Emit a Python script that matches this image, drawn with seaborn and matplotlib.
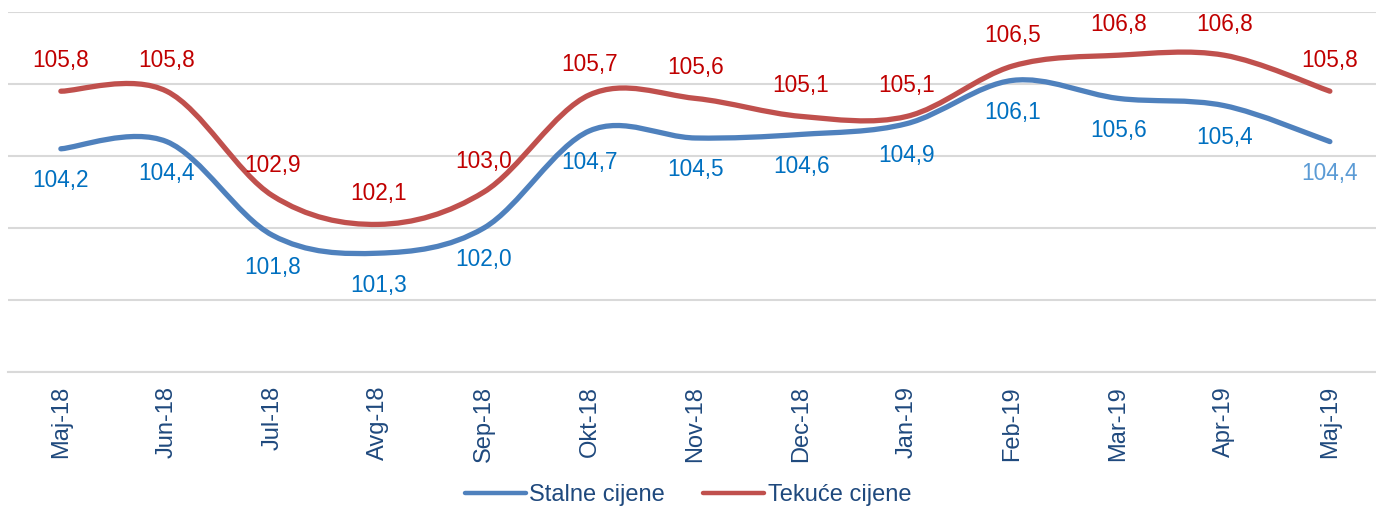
import numpy as np
import pandas as pd
import matplotlib.pyplot as plt
import seaborn as sns
from matplotlib.path import Path
from matplotlib.patches import PathPatch
from matplotlib.lines import Line2D

# Data
months = ["Maj-18", "Jun-18", "Jul-18", "Avg-18", "Sep-18", "Okt-18", "Nov-18",
          "Dec-18", "Jan-19", "Feb-19", "Mar-19", "Apr-19", "Maj-19"]
stalne = [104.2, 104.4, 101.8, 101.3, 102.0, 104.7, 104.5,
          104.6, 104.9, 106.1, 105.6, 105.4, 104.4]
tekuce = [105.8, 105.8, 102.9, 102.1, 103.0, 105.7, 105.6,
          105.1, 105.1, 106.5, 106.8, 106.8, 105.8]
series_names = ["Stalne cijene", "Tekuće cijene"]

blue = "#4F81BD"
red = "#C0504D"
label_blue = "#0070C0"
label_red = "#C00000"
navy = "#1F497D"

sns.set_theme(style="white")
plt.rcParams['font.family'] = ['Liberation Sans', 'DejaVu Sans']

df = pd.DataFrame({"x": np.arange(len(months)), "Stalne": stalne, "Tekuce": tekuce})
long = df.melt(id_vars="x", var_name="serija", value_name="v")

fig = plt.figure(figsize=(13.76, 5.08), dpi=100)
ax = fig.add_axes([8 / 1376, 136 / 508, 1374.75 / 1376, 360 / 508])

sns.lineplot(data=long, x="x", y="v", hue="serija", palette=[blue, red],
             legend=False, ax=ax)
for ln in ax.get_lines():
    ln.set_visible(False)


def smooth_path(xs, ys):
    # Excel-like smoothed line: cubic Bezier through each point
    pts = np.column_stack([xs, ys]).astype(float)
    n = len(pts)
    verts = [pts[0]]
    codes = [Path.MOVETO]
    for i in range(n - 1):
        p0 = pts[i - 1] if i > 0 else pts[i]
        p1 = pts[i]
        p2 = pts[i + 1]
        p3 = pts[i + 2] if i + 2 < n else pts[i + 1]
        c1 = p1 + (p2 - p0) / 6
        c2 = p2 - (p3 - p1) / 6
        verts += [c1, c2, p2]
        codes += [Path.CURVE4] * 3
    return Path(verts, codes)


x = df["x"].values
for vals, col in [(stalne, blue), (tekuce, red)]:
    patch = PathPatch(smooth_path(x, vals), fill=False, edgecolor=col,
                      linewidth=3.8, capstyle="round", joinstyle="round",
                      zorder=3)
    ax.add_patch(patch)

# data labels
for i, v in enumerate(stalne):
    c = "#5B9BD5" if i == len(stalne) - 1 else label_blue
    ax.annotate(f"{v:.1f}".replace(".", ","), (i, v), xytext=(0, -23),
                textcoords="offset points", ha="center", va="center",
                fontsize=16.3, color=c)
for i, v in enumerate(tekuce):
    ax.annotate(f"{v:.1f}".replace(".", ","), (i, v), xytext=(0, 22),
                textcoords="offset points", ha="center", va="center",
                fontsize=16.3, color=label_red)

ax.set_xlim(-0.5, len(months) - 0.5)
ax.set_ylim(98, 108)
ax.set_yticks(np.arange(98, 109, 2))
ax.yaxis.grid(True, color="#D9D9D9", linewidth=1.5)
ax.set_yticklabels([])
ax.tick_params(axis="y", length=0)
ax.set_xticks(x)
ax.set_xticklabels(months, rotation=90, fontsize=17, color=navy)
ax.tick_params(axis="x", length=0, pad=10)
ax.set_xlabel("")
ax.set_ylabel("")
for s in ["top", "right", "left"]:
    ax.spines[s].set_visible(False)
ax.spines["bottom"].set_color("#D9D9D9")
ax.spines["bottom"].set_linewidth(1.5)

handles = [Line2D([0], [0], color=blue, linewidth=3.2, solid_capstyle="round"),
           Line2D([0], [0], color=red, linewidth=3.2, solid_capstyle="round")]
leg = fig.legend(handles, series_names, loc="center", ncol=2,
                 bbox_to_anchor=(0.5, 13 / 508), frameon=False, fontsize=17,
                 handlelength=2.6, handletextpad=0.15, columnspacing=1.6)
for t in leg.get_texts():
    t.set_color(navy)

fig.savefig("out.png", dpi=100)
